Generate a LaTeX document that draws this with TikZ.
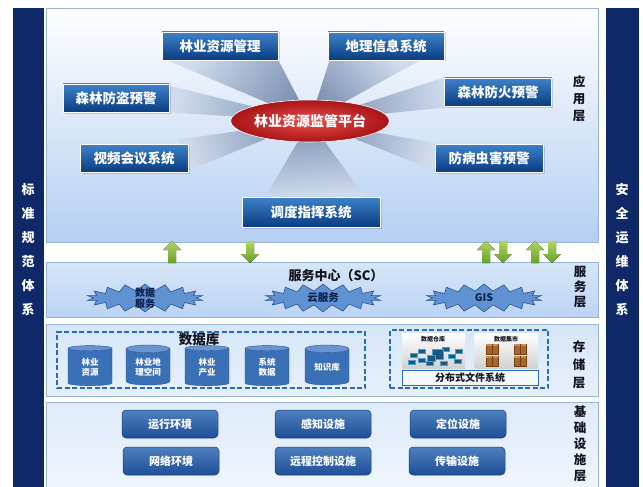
\documentclass[tikz,border=0pt]{standalone}
\usepackage{fontspec}
\setmainfont{Noto Sans CJK SC}
\usetikzlibrary{shapes.geometric,shapes.symbols,shadows,calc}
\pgfdeclarelayer{panels}
\pgfdeclarelayer{rays}
\pgfsetlayers{panels,rays,main}

\definecolor{navy}{RGB}{14,40,104}
\definecolor{panelBot}{RGB}{180,207,242}
\definecolor{panelMid}{RGB}{214,230,248}
\definecolor{panelLine}{RGB}{150,180,214}
\definecolor{boxTop}{RGB}{62,130,202}
\definecolor{boxBot}{RGB}{10,60,128}
\definecolor{rayDark}{RGB}{122,142,176}
\definecolor{rayLight}{RGB}{208,220,238}
\definecolor{redIn}{RGB}{236,78,74}
\definecolor{redOut}{RGB}{168,20,24}
\definecolor{greenTop}{RGB}{176,214,96}
\definecolor{greenBot}{RGB}{104,160,40}
\definecolor{burstFill}{RGB}{96,146,210}
\definecolor{burstLine}{RGB}{40,86,150}
\definecolor{burstInk}{RGB}{12,32,78}
\definecolor{cylBody}{RGB}{58,112,182}
\definecolor{cylEnd}{RGB}{104,148,210}
\definecolor{cylLine}{RGB}{36,82,146}
\definecolor{dashBlue}{RGB}{38,108,186}
\definecolor{infraTop}{RGB}{78,128,192}
\definecolor{infraBot}{RGB}{30,78,150}
\definecolor{ink}{RGB}{20,20,30}
\definecolor{cubeDark}{RGB}{22,88,130}
\definecolor{cubeLight}{RGB}{70,160,208}
\definecolor{crateDark}{RGB}{110,62,20}
\definecolor{crateMid}{RGB}{166,102,44}
\definecolor{crateLight}{RGB}{206,142,72}

\tikzset{
  sidebar/.style={rectangle, fill=navy, minimum width=31pt, minimum height=480pt, inner sep=0pt},
  sidetext/.style={text=white, align=center, inner sep=0pt, font=\bfseries\fontsize{13}{24}\selectfont},
  layerpanel/.style={rectangle, draw=panelLine, line width=0.8pt, inner sep=0pt, minimum width=552pt},
  layerlabel/.style={text=ink, align=center, inner sep=0pt, font=\bfseries\fontsize{12.5}{#1}\selectfont},
  appbox/.style={rectangle, minimum width=#1, minimum height=28pt, inner sep=0pt,
    top color=boxTop, bottom color=boxBot, draw=white, line width=0.9pt, text=white,
    font=\bfseries\fontsize{13.5}{14}\selectfont,
    drop shadow={shadow xshift=1.5pt, shadow yshift=-1.5pt, opacity=0.35}},
  ray/.style={top color=rayLight, bottom color=rayDark, shading angle=#1},
  platform/.style={ellipse, minimum width=152pt, minimum height=42pt, inner sep=0pt,
    inner color=redIn, outer color=redOut, draw=white, line width=0.6pt, text=white,
    font=\bfseries\fontsize{14}{14}\selectfont},
  burst/.style={starburst, starburst points=18, starburst point height=7pt, random starburst=0,
    minimum width=117pt, minimum height=28pt, inner sep=0pt, fill=burstFill, draw=burstLine,
    line width=0.6pt},
  bursttext/.style={text=burstInk, align=center, inner sep=0pt, font=\bfseries\fontsize{10.5}{11}\selectfont},
  dashframe/.style={rectangle, draw=dashBlue, line width=1.6pt, dash pattern=on 5pt off 2.5pt, inner sep=0pt},
  dbcyl/.style={cylinder, shape border rotate=90, aspect=0.3, minimum width=44pt, minimum height=40pt,
    cylinder uses custom fill, cylinder body fill=cylBody, cylinder end fill=cylEnd,
    draw=cylLine, line width=0.4pt, text=white, align=center, inner sep=0pt,
    font=\bfseries\fontsize{8.5}{10}\selectfont},
  storeimg/.style={rectangle, minimum width=63pt, minimum height=35pt, inner sep=0pt,
    top color=white, bottom color=black!18},
  tinylabel/.style={text=ink, inner sep=0pt, font=\bfseries\fontsize{6}{6}\selectfont},
  infrabox/.style={rectangle, rounded corners=4pt, minimum width=96pt, minimum height=28pt, inner sep=0pt,
    top color=infraTop, bottom color=infraBot, draw=infraBot!80!black, line width=0.5pt, text=white,
    font=\bfseries\fontsize{11}{11}\selectfont},
  cube/.style={fill=cubeDark, draw=cubeLight, line width=0.5pt},
  crate/.style={fill=crateMid, draw=crateDark, line width=0.6pt},
  uparrow/.pic={\fill[top color=greenTop, bottom color=greenBot]
    (0,-11) -- (9,-2) -- (4,-2) -- (4,11) -- (-4,11) -- (-4,-2) -- (-9,-2) -- cycle;},
  downarrow/.pic={\fill[top color=greenTop, bottom color=greenBot]
    (0,11) -- (9,2) -- (4,2) -- (4,-11) -- (-4,-11) -- (-4,2) -- (-9,2) -- cycle;}
}

\begin{document}
\begin{tikzpicture}[x=1pt,y=-1pt]
\useasboundingbox (0,0) rectangle (643,487);

% ---------- side columns and layer panels ----------
\begin{pgfonlayer}{panels}
  \node[sidebar] (stdbar) at (28,248) {};
  \node[sidebar, minimum width=33pt] (secbar) at (622,248) {};
  \node[layerpanel, minimum height=234pt, top color=white, bottom color=panelBot] (app) at (322,125) {};
  \node[layerpanel, minimum height=55pt, top color=panelMid, bottom color=panelBot!90] (svc) at (322,289.5) {};
  \node[layerpanel, minimum height=72pt, top color=panelMid, bottom color=panelMid!60] (sto) at (322,360) {};
  \node[layerpanel, minimum height=86pt, top color=panelMid!80, bottom color=panelMid!40] (infra) at (322,445) {};
\end{pgfonlayer}

\node[sidetext] (stdtxt) at (28,249.5) {标\\准\\规\\范\\体\\系};
\node[sidetext] (sectxt) at (622,249.5) {安\\全\\运\\维\\体\\系};

\node[layerlabel=17] (lblapp) at (579,99) {应\\用\\层};
\node[layerlabel=15] (lblsvc) at (580,287) {服\\务\\层};
\node[layerlabel=18] (lblsto) at (579,365) {存\\储\\层};
\node[layerlabel=16] (lblinfra) at (580,444) {基\\础\\设\\施\\层};

% ---------- application layer ----------
\node[platform] (hub) at (310,121) {林业资源监管平台};

\node[appbox=116pt] (lyzy) at (220,46) {林业资源管理};
\node[appbox=116pt] (dlxx) at (386,46) {地理信息系统};
\node[appbox=106pt] (slfd) at (116,98) {森林防盗预警};
\node[appbox=107pt] (slfh) at (498,92) {森林防火预警};
\node[appbox=108pt] (sphy) at (134,158) {视频会议系统};
\node[appbox=108pt] (fbch) at (489,158) {防病虫害预警};
\node[appbox=138pt, minimum height=30pt] (ddzh) at (311,212) {调度指挥系统};

\begin{pgfonlayer}{rays}
  \shade[ray=54] ($(lyzy.south west)+(6,0)$) -- (lyzy.south east) -- (hub.center) -- cycle;
  \shade[ray=-47] ($(dlxx.south west)+(2,0)$) -- ($(dlxx.south)+(34,0)$) -- (hub.center) -- cycle;
  \shade[ray=81] ($(slfd.north east)+(0,2)$) -- (slfd.south east) -- (hub.center) -- cycle;
  \shade[ray=105] ($(sphy.north east)+(-10,-4)$) -- ($(sphy.south east)+(0,-2)$) -- (hub.center) -- cycle;
  \shade[ray=-79] (slfh.north west) -- ($(slfh.south west)+(12,0)$) -- (hub.center) -- cycle;
  \shade[ray=-106] ($(fbch.north west)+(4,0)$) -- ($(fbch.south west)+(0,-2)$) -- (hub.center) -- cycle;
  \shade[ray=-176] ($(ddzh.north west)+(24,0)$) -- ($(ddzh.north east)+(-16,0)$) -- (hub.center) -- cycle;
\end{pgfonlayer}

% ---------- flow arrows between application and service layers ----------
\pic (up1) at (172,252) {uparrow};
\pic (dn1) at (250,252) {downarrow};
\pic (up2) at (486,252) {uparrow};
\pic (dn2) at (503,252) {downarrow};
\pic (up3) at (535,252) {uparrow};
\pic (dn3) at (552,252) {downarrow};

% ---------- service layer ----------
\node[text=ink, inner sep=0pt, font=\bfseries\fontsize{13}{13}\selectfont] (sctitle) at (336,276) {服务中心（SC）};
\node[burst] (datasvc) at (145,298) {};
\node[burst] (cloudsvc) at (323,298) {};
\node[burst] (gis) at (484,298) {};
\node[bursttext, font=\bfseries\fontsize{10}{10.5}\selectfont] (datasvctxt) at (datasvc) {数据\\服务};
\node[bursttext] (cloudsvctxt) at (cloudsvc) {云服务};
\node[bursttext] (gistxt) at (gis) {GIS};

% ---------- storage layer ----------
\node[dashframe, minimum width=308pt, minimum height=56pt] (dbframe) at (211,360) {};
\node[text=ink, inner sep=0pt, font=\bfseries\fontsize{13.5}{14}\selectfont] (dbtitle) at (199,339) {数据库};
\node[dbcyl] (db1) at (90,367) {林业\\资源};
\node[dbcyl] (db2) at (148,367) {林业地\\理空间};
\node[dbcyl] (db3) at (207,367) {林业\\产业};
\node[dbcyl] (db4) at (267,367) {系统\\数据};
\node[dbcyl] (db5) at (327,367) {知识库};

\node[dashframe, minimum width=158pt, minimum height=58pt] (fsframe) at (469,359) {};
\node[storeimg] (warehouse) at (433.5,351) {};
\node[storeimg] (mart) at (506,351) {};
\node[tinylabel] (whlabel) at (433,339) {数据仓库};
\node[tinylabel] (mtlabel) at (506,339) {数据集市};

% blue cubes of the warehouse
\foreach \cx/\cy in {412/362, 414/355, 422/351, 422/360, 430/363, 446/349, 452/356, 458/361, 444/363, 459/351}
  \filldraw[cube] (\cx-3.5,\cy-2) rectangle (\cx+3.5,\cy+2);
\filldraw[cube] (432,349) rectangle (443,359);
\filldraw[cube] (427,355) rectangle (435,361);

% crates of the data mart
\foreach \cx/\cy in {492/349, 520/349, 492/361, 520/361}{
  \filldraw[crate] (\cx-6,\cy-5) rectangle (\cx+6,\cy+5);
  \fill[crateLight] (\cx-6,\cy-5) rectangle (\cx+6,\cy-3);
  \draw[crateDark, line width=0.4pt] (\cx,\cy-5) -- (\cx,\cy+5);
}

\node[rectangle, minimum width=136pt, minimum height=15pt, inner sep=0pt, fill=white!70!panelMid,
      draw=dashBlue, line width=1pt, text=ink, font=\bfseries\fontsize{10}{10}\selectfont] (dfs) at (470,377.5) {分布式文件系统};

% ---------- infrastructure layer ----------
\node[infrabox] (runenv) at (170,424) {运行环境};
\node[infrabox] (sense) at (323,424) {感知设施};
\node[infrabox] (locate) at (458,424) {定位设施};
\node[infrabox] (netenv) at (171,461) {网络环境};
\node[infrabox] (remote) at (323,461) {远程控制设施};
\node[infrabox] (trans) at (457,461) {传输设施};
\end{tikzpicture}
\end{document}
